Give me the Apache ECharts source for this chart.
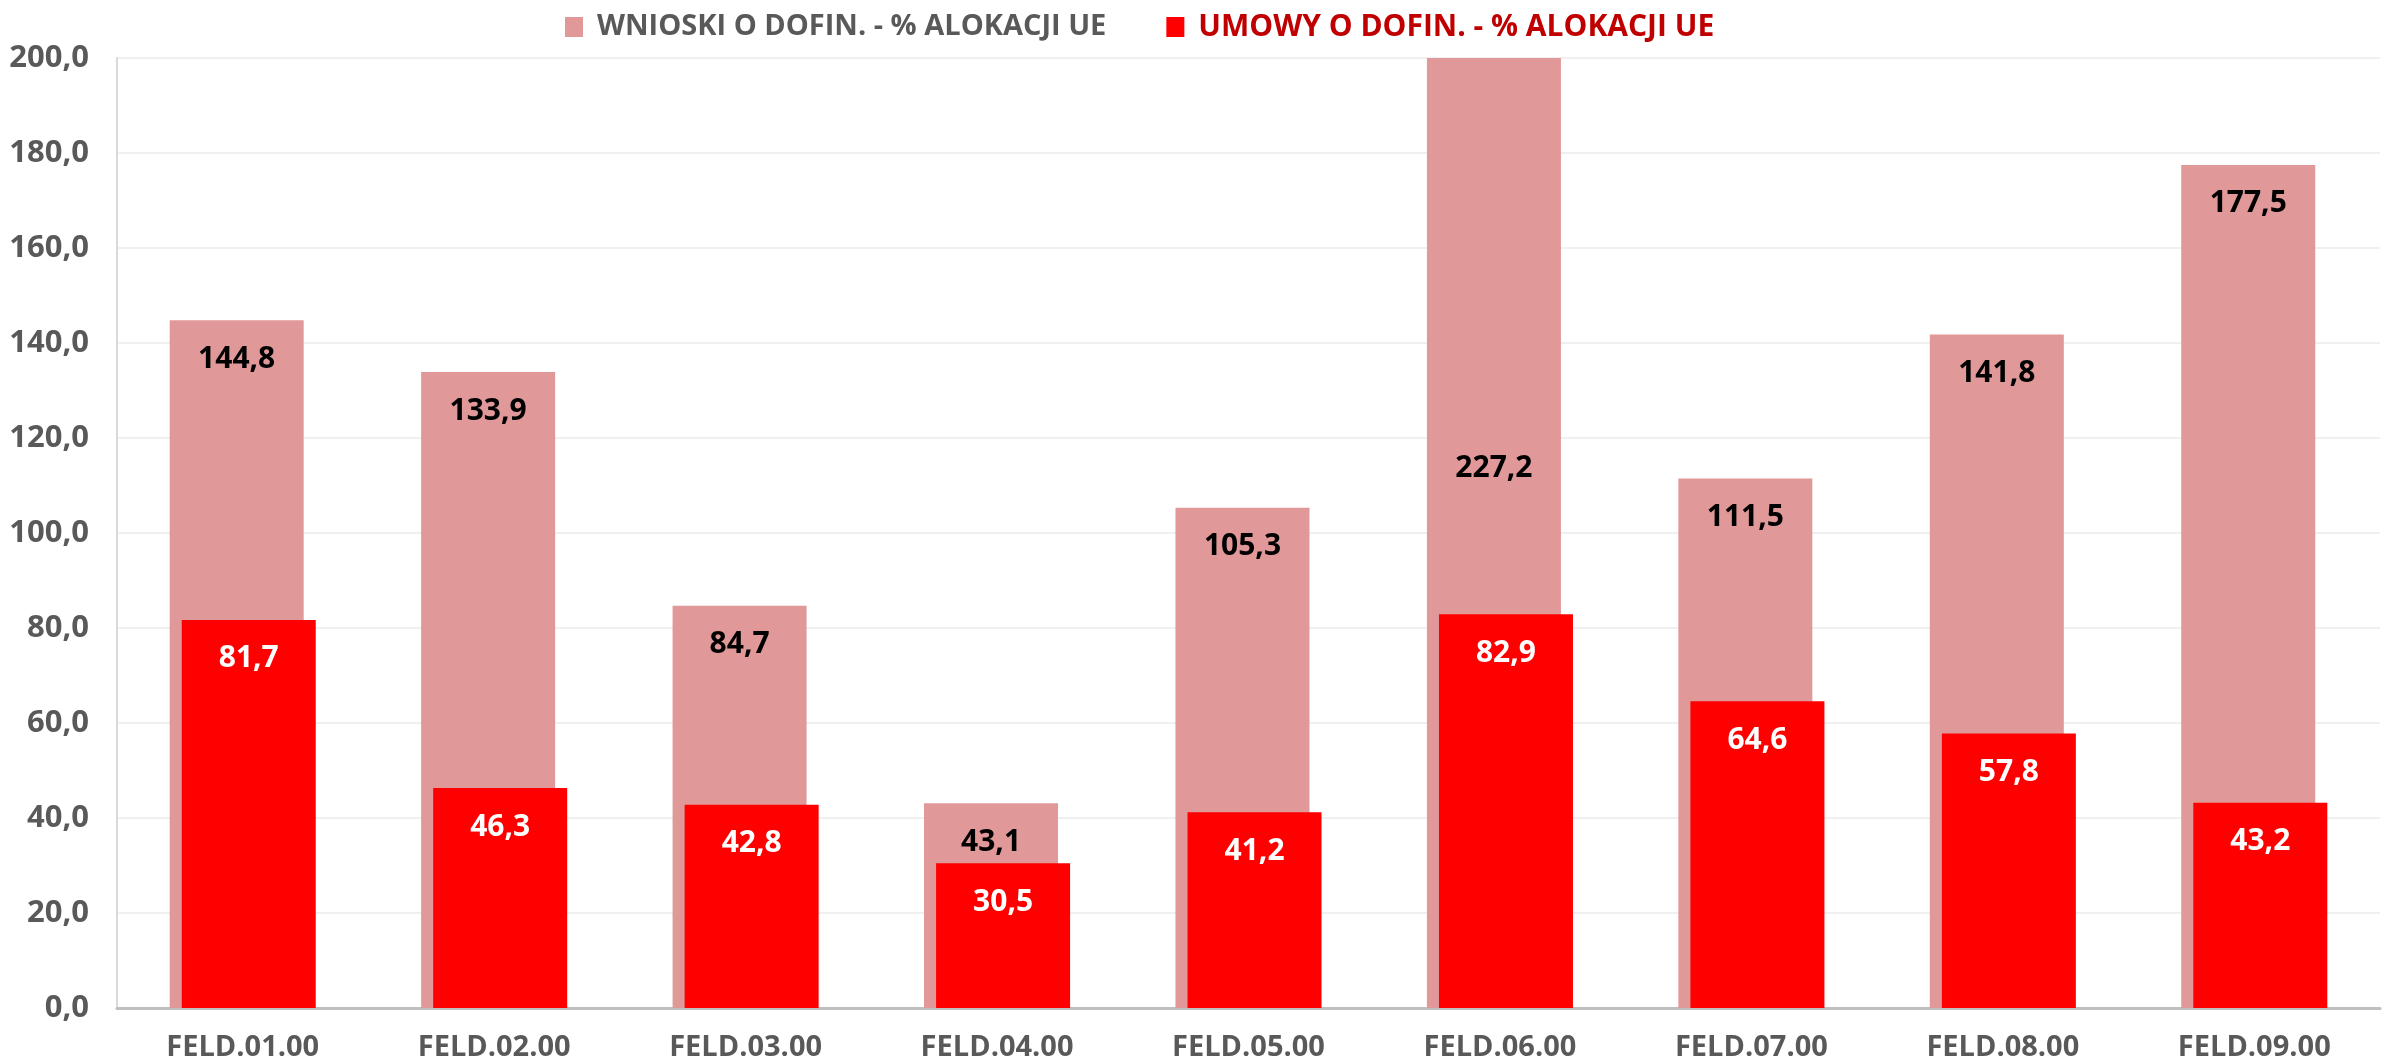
<!DOCTYPE html>
<html><head><meta charset="utf-8">
<script src="https://cdn.jsdelivr.net/npm/echarts@6/dist/echarts.min.js"></script>
<style>html,body{margin:0;padding:0;background:#fff}#c{width:2382px;height:1064px}</style>
</head><body><div id="c"></div>
<script>
const categories = ['FELD.01.00','FELD.02.00','FELD.03.00','FELD.04.00','FELD.05.00','FELD.06.00','FELD.07.00','FELD.08.00','FELD.09.00'];
const wnioski = [144.8, 133.9, 84.7, 43.1, 105.3, 227.2, 111.5, 141.8, 177.5];
const umowy = [81.7, 46.3, 42.8, 30.5, 41.2, 82.9, 64.6, 57.8, 43.2];
const seriesNames = ['WNIOSKI O DOFIN. - % ALOKACJI UE', 'UMOWY O DOFIN. - % ALOKACJI UE'];
const yTicks = [0, 20, 40, 60, 80, 100, 120, 140, 160, 180, 200];

const FONT = '"Open Sans", sans-serif';
const yMax = yTicks[yTicks.length - 1];
const gridTop = 58, gridBottom = 56;
const plotH = 1064 - gridTop - gridBottom;
const fmt = v => v.toFixed(1).replace('.', ',');

const wData = wnioski.map(v => {
  if (v > yMax) {
    // Excel places label at the middle of the unclipped bar
    const yFromTop = (yMax - v / 2) / yMax * plotH;
    return { value: v, label: { position: ['50%', yFromTop], align: 'center', verticalAlign: 'middle' } };
  }
  return v;
});

const chart = echarts.init(document.getElementById('c'));
chart.setOption({
  animation: false,
  backgroundColor: '#fff',
  grid: { left: 117, right: 2, top: gridTop, bottom: gridBottom, containLabel: false },
  legend: {
    top: 6, left: 504,
    itemWidth: 18, itemHeight: 20, itemGap: 60,
    backgroundColor: '#fff',
    padding: [6, 40, 12, 61],
    icon: 'rect',
    textStyle: { fontFamily: FONT, fontWeight: 'bold', fontSize: 29, color: '#595959', padding: [0, 0, 0, 9] },
    data: [
      { name: seriesNames[0], textStyle: { color: '#595959' } },
      { name: seriesNames[1], textStyle: { color: '#C00000', fontSize: 30 } }
    ]
  },
  xAxis: {
    type: 'category', data: categories,
    axisLine: { lineStyle: { color: '#BFBFBF', width: 3 } },
    axisTick: { show: false },
    axisLabel: { fontFamily: FONT, fontWeight: 'bold', fontSize: 29, color: '#595959', margin: 25 }
  },
  yAxis: {
    type: 'value', min: 0, max: yMax, interval: 20,
    axisLine: { show: true, lineStyle: { color: '#D9D9D9', width: 2 } },
    axisTick: { show: false },
    splitLine: { lineStyle: { color: '#F0F0F0', width: 2 } },
    axisLabel: { fontFamily: FONT, fontWeight: 'bold', fontSize: 31, color: '#595959', margin: 28, formatter: v => fmt(v) }
  },
  series: [
    {
      name: seriesNames[0], type: 'bar', data: wData,
      barWidth: 134, barGap: '-91%',
      itemStyle: { color: '#E09898' },
      label: { show: true, position: 'insideTop', distance: 24, fontFamily: FONT, fontWeight: 'bold', fontSize: 30, color: '#000', formatter: p => fmt(p.value) }
    },
    {
      name: seriesNames[1], type: 'bar', data: umowy,
      barWidth: 134,
      itemStyle: { color: '#FF0000' },
      label: { show: true, position: 'insideTop', distance: 24, fontFamily: FONT, fontWeight: 'bold', fontSize: 30, color: '#fff', formatter: p => fmt(p.value) }
    }
  ]
});
</script></body></html>
